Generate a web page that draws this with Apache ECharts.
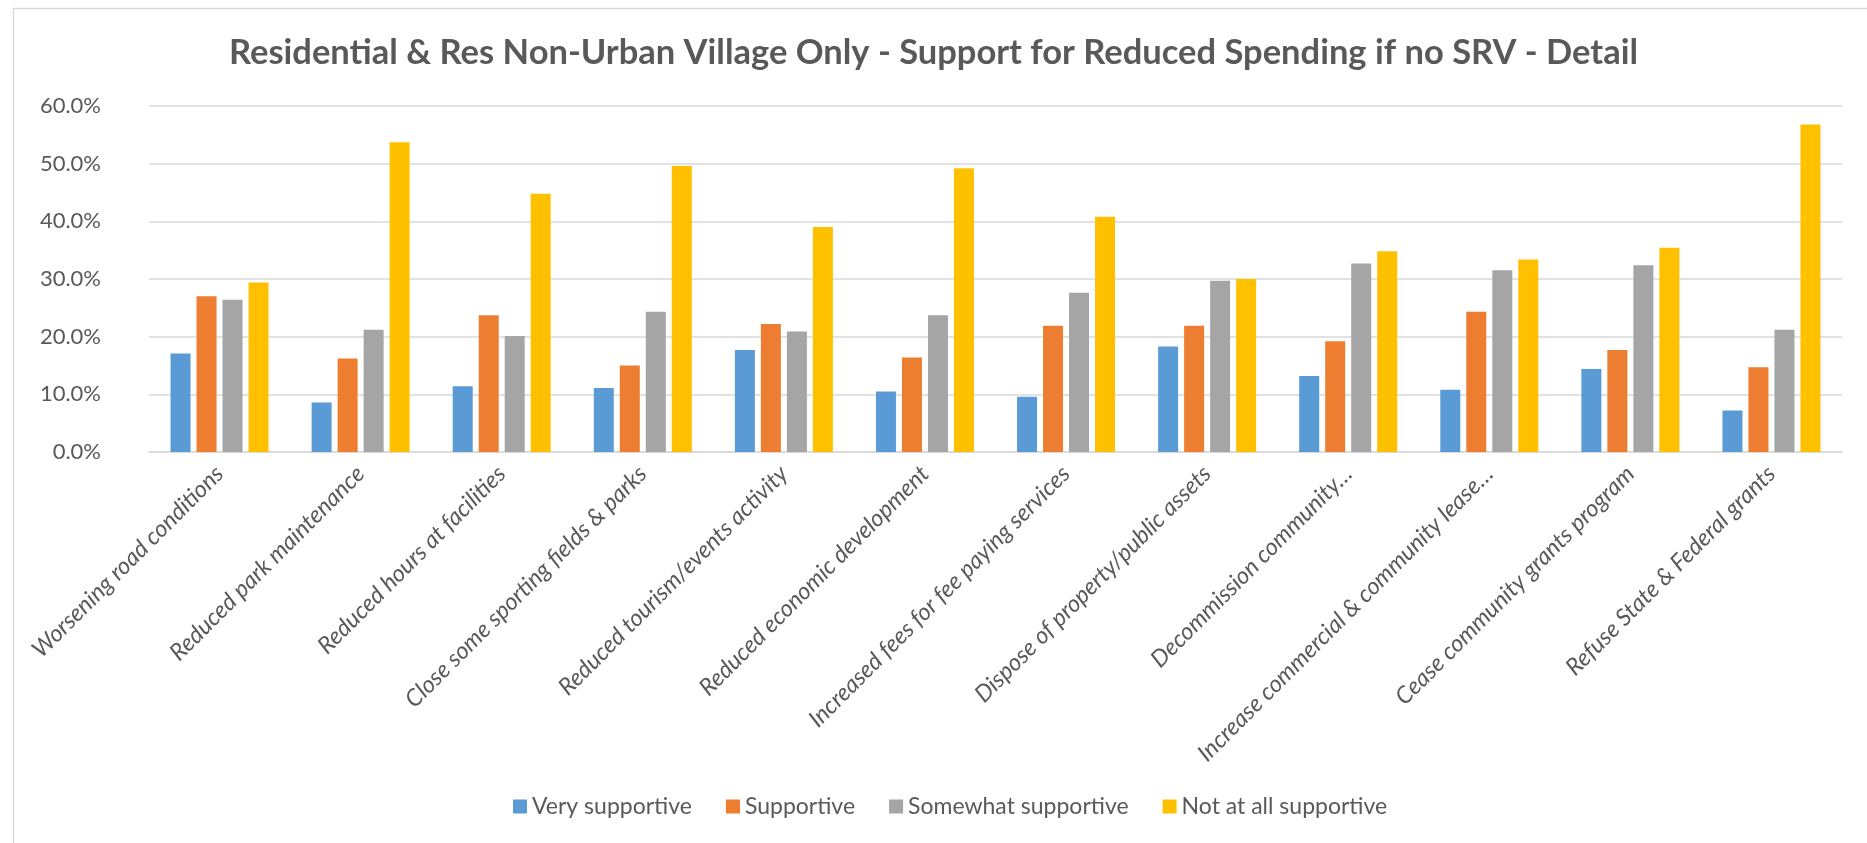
<!DOCTYPE html>
<html>
<head>
<meta charset="utf-8">
<title>Support for Reduced Spending if no SRV - Detail</title>
<script src="https://cdn.jsdelivr.net/npm/echarts@6/dist/echarts.min.js"></script>
<style>
  html, body { margin: 0; padding: 0; background: #ffffff; }
  #chart { width: 1867px; height: 843px; }
</style>
</head>
<body>
<div id="chart"></div>
<script>
// Spending-reduction options asked about
const categories = [
  'Worsening road conditions',
  'Reduced park maintenance',
  'Reduced hours at facilities',
  'Close some sporting fields & parks',
  'Reduced tourism/events activity',
  'Reduced economic development',
  'Increased fees for fee paying services',
  'Dispose of property/public assets',
  'Decommission community…',
  'Increase commercial & community lease…',
  'Cease community grants program',
  'Refuse State & Federal grants'
];

// Share of respondents (%) per support level
const verySupportive      = [17.1, 8.6, 11.4, 11.1, 17.7, 10.5, 9.6, 18.3, 13.2, 10.8, 14.4, 7.2];
const supportive          = [27.0, 16.2, 23.7, 15.0, 22.2, 16.4, 21.9, 21.9, 19.2, 24.3, 17.7, 14.7];
const somewhatSupportive  = [26.4, 21.2, 20.1, 24.3, 20.9, 23.7, 27.6, 29.7, 32.7, 31.5, 32.4, 21.2];
const notAtAllSupportive  = [29.4, 53.7, 44.8, 49.6, 39.0, 49.2, 40.8, 30.0, 34.8, 33.4, 35.4, 56.8];

const seriesNames = ['Very supportive', 'Supportive', 'Somewhat supportive', 'Not at all supportive'];
const seriesColors = ['#5B9BD5', '#ED7D31', '#A5A5A5', '#FFC000'];
const seriesData = [verySupportive, supportive, somewhatSupportive, notAtAllSupportive];

const FONT = 'Lato, "Open Sans", sans-serif';
const TEXT = '#595959';

const chart = echarts.init(document.getElementById('chart'), null, { renderer: 'canvas' });

chart.setOption({
  animation: false,
  backgroundColor: '#ffffff',
  textStyle: { fontFamily: FONT },
  graphic: [{
    type: 'rect',
    left: 11, top: 6,
    shape: { width: 1900, height: 900 },
    style: { fill: 'none', stroke: '#d9d9d9', lineWidth: 1.5 },
    silent: true, z: -1
  }],
  title: {
    text: 'Residential & Res Non-Urban Village Only - Support for Reduced Spending if no SRV - Detail',
    left: 'center',
    top: 30,
    textStyle: { fontFamily: FONT, fontWeight: 'bold', fontSize: 34.5, color: TEXT }
  },
  legend: {
    data: seriesNames,
    bottom: 20,
    left: 508,
    itemWidth: 14,
    itemHeight: 14,
    itemGap: 34,
    icon: 'rect',
    textStyle: { fontFamily: FONT, fontSize: 23, color: TEXT }
  },
  grid: { left: 149, right: 25, top: 106, bottom: 391, containLabel: false },
  xAxis: {
    type: 'category',
    data: categories,
    axisTick: { show: false },
    axisLine: { lineStyle: { color: '#d9d9d9', width: 1.5 } },
    axisLabel: {
      rotate: 45,
      interval: 0,
      margin: 18,
      fontFamily: FONT,
      fontStyle: 'italic',
      fontSize: 23.5,
      color: TEXT
    }
  },
  yAxis: {
    type: 'value',
    min: 0,
    max: 60,
    interval: 10,
    axisLine: { show: false },
    axisTick: { show: false },
    splitLine: { lineStyle: { color: '#d9d9d9', width: 1.5 } },
    axisLabel: {
      margin: 48,
      fontFamily: FONT,
      fontSize: 22,
      color: TEXT,
      formatter: v => v.toFixed(1) + '%'
    }
  },
  series: seriesNames.map((name, i) => ({
    name,
    type: 'bar',
    data: seriesData[i],
    barWidth: 20,
    barGap: '30%',
    itemStyle: { color: seriesColors[i] }
  }))
});
</script>
</body>
</html>
